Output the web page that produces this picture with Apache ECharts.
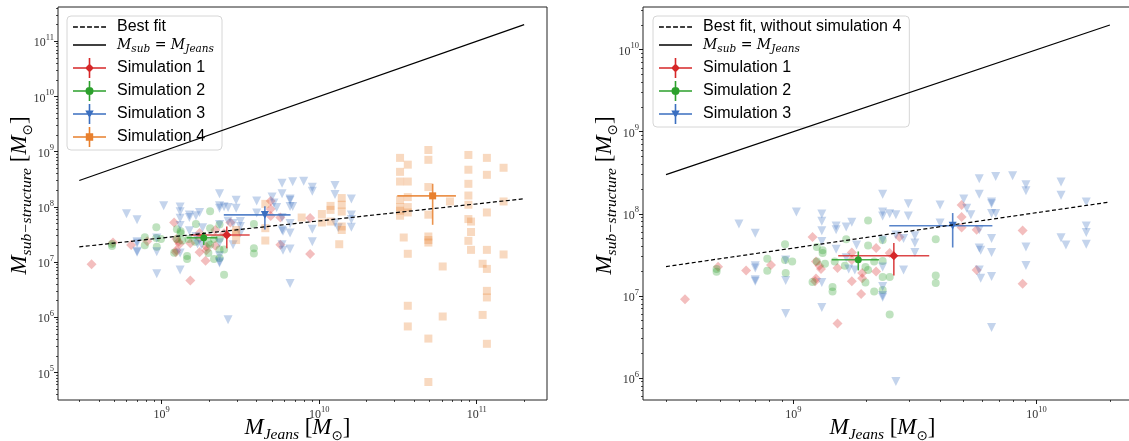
<!DOCTYPE html>
<html><head><meta charset="utf-8">
<script src="https://cdn.jsdelivr.net/npm/echarts@6/dist/echarts.min.js"></script>
<style>html,body{margin:0;padding:0;background:#fff}#c{width:1129px;height:441px}</style>
</head><body><div id="c"></div>
<script>
// ---------------- data (values in solar masses) ----------------
const sim1X = [3.59e8,4.91e8,6.40e8,8.10e8,1.20e9,1.24e9,1.28e9,1.30e9,1.24e9,1.23e9,1.52e9,1.52e9,1.74e9,1.74e9,1.90e9,1.92e9,1.92e9,2.19e9,2.19e9,2.73e9,2.49e9,4.92e9,4.92e9,4.92e9,5.67e9,5.67e9,8.76e9,8.76e9,1.74e9];
const sim1Y = [9.1e6,2.26e7,2.04e7,2.38e7,5.2e7,2.62e7,2.32e7,2.12e7,1.63e7,1.50e7,2.18e7,4.6e6,3.37e7,1.50e7,1.05e7,1.89e7,1.64e7,3.82e7,1.98e7,5.2e7,3.32e7,1.28e8,9.1e7,6.8e7,6.4e7,2.06e7,6.25e7,1.40e7,2.73e7];
const sim2X = [4.84e8,4.84e8,7.82e8,7.82e8,9.25e8,9.25e8,9.31e8,9.9e8,1.20e9,1.25e9,1.25e9,1.32e9,1.32e9,1.35e9,1.45e9,1.45e9,1.48e9,1.65e9,1.63e9,1.98e9,2.03e9,1.98e9,2.03e9,2.03e9,2.15e9,2.15e9,2.33e9,2.33e9,2.49e9,2.49e9,2.33e9,3.85e9,3.85e9,3.85e9,2.33e9];
const sim2Y = [2.12e7,1.96e7,2.82e7,2.02e7,4.26e7,2.73e7,1.89e7,2.62e7,1.47e7,2.62e7,3.94e7,3.6e7,3.32e7,2.45e7,1.28e7,1.13e7,2.62e7,4.9e7,2.32e7,2.24e7,2.06e7,1.45e7,8.3e7,4.1e7,2.62e7,1.13e7,4.8e7,1.69e7,1.69e7,5.9e6,1.18e7,4.9e7,1.77e7,1.43e7,2.65e7];
const sim3X = [5.98e8,6.98e8,6.98e8,6.98e8,6.98e8,6.98e8,1.03e9,9.31e8,9.31e8,9.31e8,
  1.31e9,1.31e9,1.31e9,1.31e9,1.31e9,1.31e9,1.50e9,1.50e9,1.65e9,1.74e9,
  1.50e9,1.82e9,1.65e9,1.69e9,2.33e9,2.33e9,2.33e9,2.49e9,2.64e9,2.97e9,
  2.97e9,2.33e9,2.33e9,2.33e9,2.33e9,2.33e9,2.64e9,2.84e9,3.16e9,3.16e9,
  3.16e9,2.84e9,4.01e9,4.01e9,5.02e9,5.16e9,5.37e9,5.81e9,5.81e9,6.79e9,
  7.97e9,6.53e9,6.53e9,6.53e9,6.79e9,5.81e9,6.53e9,5.81e9,5.89e9,6.53e9,
  5.81e9,5.89e9,6.53e9,6.53e9,9.04e9,9.04e9,9.04e9,9.04e9,1.26e10,1.26e10,
  1.26e10,1.32e10,1.60e10,1.60e10,1.60e10,1.60e10,2.64e9,1.79e9];
const sim3Y = [7.5e7,5.8e7,2.32e7,2.18e7,1.57e7,1.50e7,1.05e8,2.73e7,1.54e7,6.1e6,
  9.9e7,8.1e7,6.2e7,4.6e7,1.45e7,7.2e6,7.1e7,6.4e7,6.9e7,7.9e7,
  3.7e7,4.17e7,2.9e7,2.12e7,1.73e8,1.05e8,9.4e7,1.0e8,9.7e7,1.32e8,
  9.4e7,4.8e7,2.24e7,1.30e7,1.01e7,9.6e6,5.5e7,5.0e7,5.4e7,4.4e7,
  3.37e7,2.06e7,1.28e8,7.7e7,1.51e8,1.17e8,9.7e7,1.73e8,2.67e8,2.85e8,
  2.91e8,1.39e8,1.32e8,1.01e8,1.01e8,6.4e7,5.0e7,3.82e7,3.6e7,3.37e7,
  2.06e7,1.64e7,1.72e7,4.1e6,2.26e8,1.91e8,3.94e7,2.34e7,2.44e8,1.68e8,
  5.1e7,4.17e7,1.39e8,7.1e7,5.9e7,4.26e7,9.0e5,2.06e7];
const sim4X = [7.74e9,1.04e10,1.04e10,1.18e10,1.18e10,1.18e10,1.39e10,1.39e10,1.39e10,1.39e10,
  1.39e10,1.34e10,3.26e10,3.65e10,4.93e10,3.26e10,3.26e10,3.26e10,3.26e10,3.65e10,
  3.65e10,3.65e10,3.44e10,3.65e10,3.65e10,3.65e10,4.93e10,4.93e10,4.93e10,4.93e10,
  4.93e10,4.93e10,6.08e10,6.08e10,6.76e10,8.85e10,8.85e10,8.85e10,8.85e10,9.2e10,
  9.2e10,8.85e10,9.2e10,1.09e11,1.16e11,1.16e11,1.16e11,1.16e11,1.16e11,1.09e11,
  1.16e11,1.48e11,1.48e11,4.55e9,4.55e9,4.55e9,2.97e9,2.97e9,2.97e9,
  3.26e10,3.26e10,3.65e10,4.93e10,4.93e10,8.85e10,8.85e10,1.16e11,1.16e11,1.48e11];
const sim4Y = [6.4e7,7.4e7,5.2e7,1.04e8,8.8e7,5.4e7,1.44e8,1.09e8,8.2e7,4.4e7,
  3.8e7,2.1e7,2.87e8,2.87e8,2.28e8,1.34e8,9.9e7,8.5e7,6.9e7,1.5e8,
  9.9e7,7.9e7,2.78e7,1.41e7,1.61e6,6.8e5,7.2e7,2.9e7,2.5e7,2.25e7,
  4.1e5,6.7e4,8.3e6,1.03e6,1.25e8,2.61e8,1.6e8,1.09e8,6.0e7,5.4e7,
  3.5e7,2.42e7,1.66e7,9.3e6,7.9e7,1.66e7,7.5e6,3.0e6,2.28e6,1.1e6,
  3.3e5,1.25e8,1.37e7,1.13e8,4.1e7,2.45e7,3.8e7,2.5e7,3.4e7,
  7.7e8,4.3e8,5.8e8,1.07e9,7.1e8,8.7e8,4.7e8,7.7e8,3.8e8,5.1e8];
// means with error bar extents: [x, y, xLow, xHigh, yLow, yHigh]
const meanSim1 = [2.59e9, 3.08e7, 1.53e9, 3.62e9, 1.77e7, 4.40e7];
const meanSim2 = [1.85e9, 2.75e7, 1.44e9, 2.25e9, 2.04e7, 3.47e7];
const meanSim3 = [4.52e9, 7.14e7, 2.48e9, 6.58e9, 3.88e7, 1.02e8];
const meanSim4 = [5.25e10, 1.58e8, 3.13e10, 7.38e10, 4.72e7, 2.61e8];
// lines
const fitLeftX = [3e8, 2e11],  fitLeftY = [1.88e7, 1.40e8];
const fitRightX = [3e8, 2e10], fitRightY = [2.27e7, 1.39e8];
const eqLeftX = [3e8, 2e11],   eqLeftY = [3e8, 2e11];
const eqRightX = [3e8, 2e10],  eqRightY = [3e8, 2e10];
// tick exponents
const ticksLeftX = [9, 10, 11], ticksLeftY = [5, 6, 7, 8, 9, 10, 11];
const ticksRightX = [9, 10],    ticksRightY = [6, 7, 8, 9, 10];
const seriesNames = ['Simulation 1', 'Simulation 2', 'Simulation 3', 'Simulation 4'];

// ---------------- styling ----------------
const COLORS = ['#d62728', '#2ca02c', '#3b6fc0', '#e8802e'];
const SYMBOLS = ['diamond', 'circle', 'triangle', 'rect'];
const SIZES = [10, 8, 9, 8];
const ROT = [0, 0, 180, 0];
const L = v => Math.log10(v);
const pts = (xs, ys) => xs.map((x, i) => [L(x), L(ys[i])]);
const SERIF = 'Liberation Serif, DejaVu Serif, serif';
const DSERIF = 'DejaVu Serif, Liberation Serif, serif';

function minorTicks(min, max) {
  const out = [];
  for (let n = Math.floor(min); n <= Math.ceil(max); n++)
    for (let k = 2; k <= 9; k++) { const v = n + Math.log10(k); if (v > min && v < max) out.push(v); }
  return out;
}
const tickRich = {
  b: { fontFamily: SERIF, fontSize: 12, color: '#333', lineHeight: 16, verticalAlign: 'bottom' },
  s: { fontFamily: SERIF, fontSize: 8.5, color: '#333', lineHeight: 16, verticalAlign: 'top' }
};
const nameRich = {
  m: { fontFamily: SERIF, fontStyle: 'italic', fontSize: 23, color: '#000', lineHeight: 30, verticalAlign: 'middle' },
  r: { fontFamily: SERIF, fontSize: 23, color: '#000', lineHeight: 30, verticalAlign: 'middle' },
  sb: { fontFamily: SERIF, fontStyle: 'italic', fontSize: 15.5, color: '#000', lineHeight: 30, verticalAlign: 'bottom' },
  sd: { fontFamily: 'DejaVu Sans', fontSize: 13.5, color: '#000', lineHeight: 30, verticalAlign: 'bottom' }
};
const yName = '{m|M}{sb|sub\u2212structure}{r| [}{m|M}{sd|\u2299}{r|]}';
const xName = '{m|M}{sb|Jeans}{r| [}{m|M}{sd|\u2299}{r|]}';

function axisPair(dim, gi, min, max, major, name, gap) {
  const pos = dim === 'x' ? 'bottom' : 'left';
  return [
    { type: 'value', gridIndex: gi, min, max, position: pos,
      axisLine: { show: false }, splitLine: { show: false },
      axisTick: { show: true, customValues: major, length: 4, lineStyle: { color: '#000', width: 0.9 } },
      axisLabel: { customValues: major, margin: dim === 'x' ? 5 : 4, formatter: v => '{b|10}{s|' + Math.round(v) + '}', rich: tickRich },
      name, nameLocation: 'middle', nameGap: gap, nameMoveOverlap: false,
      nameTextStyle: { rich: nameRich, padding: dim === 'x' ? [0, 10, 0, 0] : [0, 0, 0, 16] } },
    { type: 'value', gridIndex: gi, min, max, position: pos,
      axisLine: { show: false }, splitLine: { show: false },
      axisTick: { show: true, customValues: minorTicks(min, max), length: 2, lineStyle: { color: '#000', width: 0.7 } },
      axisLabel: { show: false } }
  ];
}

const xAxes = [
  ...axisPair('x', 0, 8.342, 11.446, ticksLeftX, xName, 13),
  ...axisPair('x', 1, 8.3825, 10.392, ticksRightX, xName, 13)
];
const yAxes = [
  ...axisPair('y', 0, 4.50, 11.62, ticksLeftY, yName, 23),
  ...axisPair('y', 1, 5.73, 10.52, ticksRightY, yName, 23)
];

function errRender(color) {
  return function (params, api) {
    const x = api.value(0), y = api.value(1);
    const a = api.coord([api.value(2), y]), b = api.coord([api.value(3), y]);
    const c = api.coord([x, api.value(4)]), d = api.coord([x, api.value(5)]);
    const st = { stroke: color, lineWidth: 1.6, opacity: 0.85 };
    return { type: 'group', children: [
      { type: 'line', shape: { x1: a[0], y1: a[1], x2: b[0], y2: b[1] }, style: st },
      { type: 'line', shape: { x1: c[0], y1: c[1], x2: d[0], y2: d[1] }, style: st }
    ] };
  };
}

const simX = [sim1X, sim2X, sim3X, sim4X], simY = [sim1Y, sim2Y, sim3Y, sim4Y];
const means = [meanSim1, meanSim2, meanSim3, meanSim4];

function simSeries(i, axis) {
  const m = means[i];
  return [
    { type: 'scatter', name: seriesNames[i], xAxisIndex: axis, yAxisIndex: axis, z: 2,
      symbol: SYMBOLS[i], symbolSize: SIZES[i], symbolRotate: ROT[i],
      itemStyle: { color: COLORS[i], opacity: 0.3 }, silent: true,
      data: pts(simX[i], simY[i]) },
    { type: 'custom', name: seriesNames[i], xAxisIndex: axis, yAxisIndex: axis, z: 3,
      renderItem: errRender(COLORS[i]), encode: { x: [0, 2, 3], y: [1, 4, 5] },
      data: [m.map(L)] },
    { type: 'scatter', name: seriesNames[i], xAxisIndex: axis, yAxisIndex: axis, z: 4,
      symbol: SYMBOLS[i], symbolSize: SIZES[i] - 1, symbolRotate: ROT[i],
      itemStyle: { color: COLORS[i], opacity: 1 },
      data: [[L(m[0]), L(m[1])]] }
  ];
}
function lineSeries(name, xs, ys, axis, dashed) {
  return { type: 'line', name, xAxisIndex: axis, yAxisIndex: axis, z: 5, symbol: 'none',
    lineStyle: { color: '#000', width: 1.2, type: dashed ? [4, 2.5] : 'solid' },
    itemStyle: { color: '#000' }, data: pts(xs, ys) };
}

const ICON = {
  diamond: 'path://M0,9.2h33v1.6h-33z M15.7,0h1.6v20h-1.6z M16.5,5.6L20.9,10L16.5,14.4L12.1,10z',
  circle: 'path://M0,9.2h33v1.6h-33z M15.7,0h1.6v20h-1.6z M12.5,10a4,4 0 1,1 8,0a4,4 0 1,1 -8,0z',
  triangle: 'path://M0,9.2h33v1.6h-33z M15.7,0h1.6v20h-1.6z M12.3,6.6h8.4L16.5,14.2z',
  rect: 'path://M0,9.2h33v1.6h-33z M15.7,0h1.6v20h-1.6z M12.8,6.3h7.4v7.4h-7.4z',
  dashed: 'path://M0,0h4.5v1.3h-4.5z M6.5,0h4.5v1.3h-4.5z M13,0h4.5v1.3h-4.5z M19.5,0h4.5v1.3h-4.5z M26,0h4.5v1.3h-4.5z',
  solid: 'path://M0,0h33v1.3h-33z'
};
function legend(left, fitName, n) {
  const data = [{ name: fitName, icon: ICON.dashed }, { name: 'eq', icon: ICON.solid }];
  for (let i = 0; i < n; i++) data.push({ name: seriesNames[i], icon: ICON[SYMBOLS[i]], itemStyle: { color: COLORS[i], opacity: 1 } });
  return {
    orient: 'vertical', left, top: 16, itemWidth: 33, itemHeight: 20, itemGap: 3,
    padding: [3, 8, 3, 6], backgroundColor: 'rgba(255,255,255,0.8)', borderColor: '#d6d6d6',
    borderWidth: 1, borderRadius: 4, selectedMode: false, data,
    formatter: nm => nm === 'eq' ? '{i|M}{is|sub}{r| = }{i|M}{is|Jeans}' : nm,
    textStyle: { fontFamily: 'Liberation Sans, Arial, sans-serif', fontSize: 16, color: '#000', padding: [0, 0, 0, 6],
      rich: {
        i: { fontFamily: DSERIF, fontStyle: 'italic', fontSize: 14, color: '#000', lineHeight: 20, verticalAlign: 'middle' },
        r: { fontFamily: DSERIF, fontSize: 14, color: '#000', lineHeight: 20, verticalAlign: 'middle' },
        is: { fontFamily: DSERIF, fontStyle: 'italic', fontSize: 10.5, color: '#000', lineHeight: 20, verticalAlign: 'bottom' }
      } }
  };
}

const series = [];
for (let i = 0; i < 4; i++) series.push(...simSeries(i, 0));
series.push(lineSeries('Best fit', fitLeftX, fitLeftY, 0, true));
series.push(lineSeries('eq', eqLeftX, eqLeftY, 0, false));
for (let i = 0; i < 3; i++) series.push(...simSeries(i, 2));
series.push(lineSeries('Best fit, without simulation 4', fitRightX, fitRightY, 2, true));
series.push(lineSeries('eq', eqRightX, eqRightY, 2, false));

const chart = echarts.init(document.getElementById('c'), null, { renderer: 'canvas' });
chart.setOption({
  animation: false,
  backgroundColor: '#fff',
  grid: [
    { left: 58, top: 7, width: 489, height: 393, show: true, borderColor: '#222', borderWidth: 1, backgroundColor: 'transparent', outerBoundsMode: 'none', containLabel: false },
    { left: 643, top: 7, width: 489, height: 393, show: true, borderColor: '#222', borderWidth: 1, backgroundColor: 'transparent', outerBoundsMode: 'none', containLabel: false }
  ],
  xAxis: xAxes,
  yAxis: yAxes,
  legend: [legend(67, 'Best fit', 4), legend(653, 'Best fit, without simulation 4', 3)],
  series
});
</script></body></html>
